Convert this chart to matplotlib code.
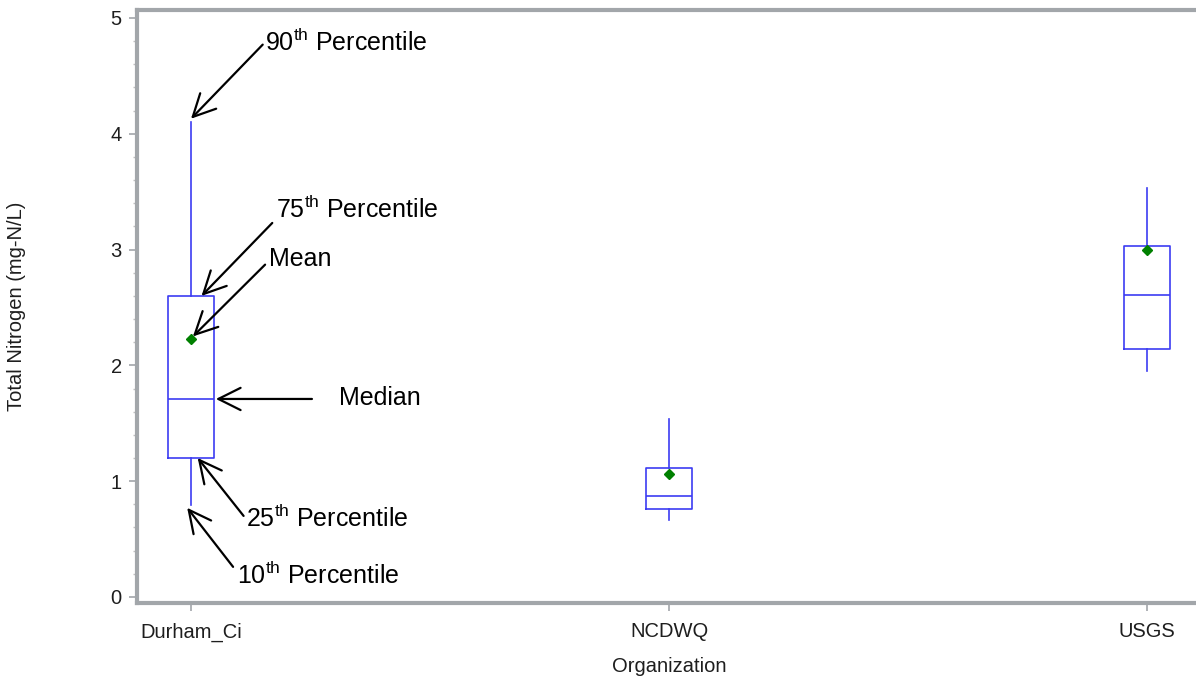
import matplotlib.pyplot as plt
from matplotlib.ticker import MultipleLocator

plt.rcParams['font.family'] = ['Liberation Sans', 'DejaVu Sans']
plt.rcParams['mathtext.fontset'] = 'custom'
plt.rcParams['mathtext.rm'] = 'Liberation Sans'

# total nitrogen summary by organization (mg-N/L)
orgs = ['Durham_Ci', 'NCDWQ', 'USGS']
p10 = [0.79, 0.665, 1.95]
p25 = [1.20, 0.757, 2.14]
p50 = [1.71, 0.875, 2.61]
p75 = [2.60, 1.11, 3.03]
p90 = [4.10, 1.54, 3.535]
means = [2.23, 1.062, 3.00]

stats = []
for i in range(len(orgs)):
    stats.append({'label': orgs[i], 'whislo': p10[i], 'q1': p25[i], 'med': p50[i],
                  'q3': p75[i], 'whishi': p90[i], 'mean': means[i], 'fliers': []})

blue = '#3C3CF2'
gray = '#A2A6AA'
dark = '#1E1E1E'

fig = plt.figure(figsize=(11.96, 6.79), dpi=100)
ax = fig.add_axes([137 / 1196, 1 - 603 / 679, 1064 / 1196, 593 / 679])

pos = list(range(len(orgs)))
ax.bxp(stats, positions=pos, widths=0.095, showcaps=False, showmeans=True,
       boxprops=dict(color=blue, lw=1.2),
       whiskerprops=dict(color=blue, lw=1.2),
       medianprops=dict(color=blue, lw=1.2),
       meanprops=dict(marker='D', markerfacecolor='#008000', markeredgecolor='#008000',
                      markersize=5.5))

ax.set_xlim(-0.113, 2.113)
ax.set_ylim(-0.052, 5.069)
ax.set_xticks(pos)
ax.set_xticklabels(orgs)
ax.yaxis.set_major_locator(MultipleLocator(1))
ax.yaxis.set_minor_locator(MultipleLocator(0.2))

for s in ax.spines.values():
    s.set_color(gray)
    s.set_linewidth(3)

ax.tick_params(axis='both', which='major', colors=gray, labelcolor=dark,
               labelsize=14.5, length=6, width=1.2)
ax.tick_params(axis='x', pad=8)
ax.tick_params(axis='y', pad=5)
ax.tick_params(axis='y', which='minor', colors='#C0C0C0', length=3, width=1)

ax.set_xlabel('Organization', fontsize=14.5, color=dark, labelpad=11)
ax.set_ylabel('Total Nitrogen (mg-N/L)', fontsize=14.5, color=dark)
ax.yaxis.set_label_coords(-0.104, 0.5)

# labelled arrows explaining the box parts
arrow = dict(arrowstyle='->,head_length=0.8,head_width=0.4', color='black', lw=1.6,
             mutation_scale=20, shrinkA=0, shrinkB=0)
notes = [
    (r'90$^{\mathrm{th}}$ Percentile', (0.0, p90[0] + 0.03), (0.15, 4.77), (0.154, 4.79)),
    (r'75$^{\mathrm{th}}$ Percentile', (0.022, p75[0]), (0.17, 3.23), (0.178, 3.35)),
    ('Mean', (0.004, means[0] + 0.02), (0.155, 2.87), (0.163, 2.92)),
    ('Median', (0.052, p50[0]), (0.253, p50[0]), (0.31, p50[0] + 0.01)),
    (r'25$^{\mathrm{th}}$ Percentile', (0.014, p25[0]), (0.11, 0.70), (0.114, 0.68)),
    (r'10$^{\mathrm{th}}$ Percentile', (-0.008, p10[0] - 0.02), (0.088, 0.26), (0.096, 0.185)),
]
for label, tip, tail, txt in notes:
    ax.annotate('', xy=tip, xytext=tail, arrowprops=arrow)
    ax.text(txt[0], txt[1], label, fontsize=18, ha='left', va='center')

fig.savefig('out.png', dpi=100)
